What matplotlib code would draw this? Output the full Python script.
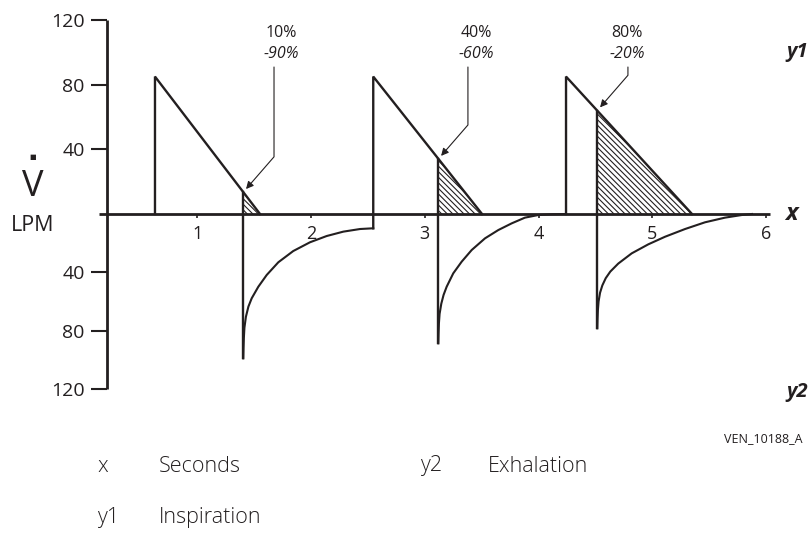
"""Flow waveforms at three cycle-off settings (10%, 40%, 80% of peak flow)."""

import matplotlib

matplotlib.use("Agg")
import matplotlib.pyplot as plt
import numpy as np

INK = "#231f20"
SANS: list[str] = ["Open Sans", "DejaVu Sans"]
NARROW: list[str] = ["Liberation Sans Narrow", "Open Sans", "DejaVu Sans"]

FIG_W, FIG_H = 812, 559
UPPER_SLOPE = 1.617  # px per LPM above the baseline (inspiration)
LOWER_SLOPE = 1.458  # px per LPM below the baseline (exhalation)

# axes
X_TICKS: list[int] = [1, 2, 3, 4, 5, 6]
Y_TICKS: list[int] = [120, 80, 40, -40, -80, -120]
Y_TICK_LABELS: list[str] = ["120", "80", "40", "40", "80", "120"]

# inspiration ramps (seconds / LPM)
INSP_START_T: list[float] = [0.629, 2.547, 4.241]
INSP_START_FLOW: list[float] = [0.0, -9.8, 0.0]
INSP_PEAK: list[float] = [85, 85, 85]
RAMP_END_T: list[float] = [1.552, 3.503, 5.348]

# cycle-off point on each ramp
CYCLE_T: list[float] = [1.405, 3.119, 4.516]
CYCLE_FLOW: list[float] = [13.5, 34, 64]
CYCLE_LABELS: list[str] = ["10%", "40%", "80%"]
CYCLE_SUBLABELS: list[str] = ["-90%", "-60%", "-20%"]

# exhalation curves
EXH1_T: list[float] = [1.405, 1.407, 1.410, 1.415, 1.428, 1.450, 1.479, 1.537, 1.611, 1.713, 1.844, 1.991, 2.138, 2.284, 2.431, 2.547]
EXH1_FLOW: list[float] = [-99.0, -92.0, -85.0, -78.0, -70.5, -63.5, -57.8, -49.9, -41.8, -33.1, -25.4, -19.4, -15.1, -12.1, -10.3, -9.8]
EXH2_T: list[float] = [3.119, 3.121, 3.124, 3.130, 3.145, 3.165, 3.192, 3.250, 3.324, 3.412, 3.529, 3.646, 3.764, 3.880, 3.997, 4.115, 4.241]
EXH2_FLOW: list[float] = [-88.7, -82.0, -75.0, -68.5, -61.5, -55.5, -49.9, -40.7, -32.7, -24.7, -16.7, -11.0, -6.4, -2.5, -0.7, -0.2, 0.0]
EXH3_T: list[float] = [4.516, 4.518, 4.521, 4.527, 4.540, 4.560, 4.590, 4.630, 4.700, 4.818, 4.964, 5.111, 5.287, 5.462, 5.638, 5.785, 5.875]
EXH3_FLOW: list[float] = [-78.4, -72.0, -66.0, -60.0, -54.0, -49.0, -44.0, -39.5, -34.0, -27.0, -20.8, -15.6, -10.3, -5.7, -2.5, -0.7, 0.0]

LEGEND_KEYS: list[str] = ["x", "y2", "y1"]
LEGEND_NAMES: list[str] = ["Seconds", "Exhalation", "Inspiration"]

# layout (pixels of the 812x559 canvas, converted where used)
X_LIM = (0.14, 6.03)
Y_AXIS_AT = 0.208
LEADER_T: list[float] = [1.675, 3.379, 4.785]
LABEL_T: list[float] = [1.736, 3.449, 4.777]
LABEL_FLOW, SUBLABEL_FLOW, LEADER_TOP = 111.9, 98.9, 90.9
LEGEND_POS: list[tuple[float, float, float]] = [(97, 159, 466), (420, 488, 466), (97, 159, 518)]


def forward(v):
    v = np.asarray(v, dtype=float)
    return np.where(v >= 0, v * UPPER_SLOPE, v * LOWER_SLOPE)


def inverse(t):
    t = np.asarray(t, dtype=float)
    return np.where(t >= 0, t / UPPER_SLOPE, t / LOWER_SLOPE)


def fig_xy(x_px: float, y_px: float) -> tuple[float, float]:
    return x_px / FIG_W, 1 - y_px / FIG_H


def setup_axes(fig):
    left, right = 83.4 + 113.8 * X_LIM[0], 83.4 + 113.8 * X_LIM[1]
    top, bottom = 214 - 120 * UPPER_SLOPE, 214 + 120 * LOWER_SLOPE
    ax = fig.add_axes([left / FIG_W, 1 - bottom / FIG_H, (right - left) / FIG_W, (bottom - top) / FIG_H])
    ax.set_yscale("function", functions=(forward, inverse))
    ax.set_xlim(*X_LIM)
    ax.set_ylim(-120, 120)
    ax.patch.set_visible(False)

    for side in ("top", "right"):
        ax.spines[side].set_visible(False)
    ax.spines["left"].set_position(("data", Y_AXIS_AT))
    ax.spines["bottom"].set_position(("data", 0))
    for side in ("left", "bottom"):
        ax.spines[side].set_linewidth(2.0)
        ax.spines[side].set_color(INK)
        ax.spines[side].set_capstyle("butt")

    ax.set_xticks(X_TICKS)
    ax.set_xticklabels([str(t) for t in X_TICKS], family=SANS)
    ax.set_yticks(Y_TICKS)
    ax.set_yticklabels(Y_TICK_LABELS, family=SANS)
    ax.minorticks_off()
    ax.tick_params(axis="y", direction="out", length=11.5, width=1.5, pad=4.5, labelsize=14, colors=INK)
    ax.tick_params(axis="x", direction="out", length=3, width=1.2, pad=5, labelsize=13, colors=INK)
    return ax


def draw_breaths(ax) -> None:
    exhalations = [(EXH1_T, EXH1_FLOW), (EXH2_T, EXH2_FLOW), (EXH3_T, EXH3_FLOW)]
    line = dict(color=INK, lw=1.7, solid_joinstyle="miter", clip_on=False)

    for i, (exh_t, exh_flow) in enumerate(exhalations):
        # inspiration: vertical rise then linear decay to zero
        ax.plot(
            [INSP_START_T[i], INSP_START_T[i], RAMP_END_T[i]],
            [INSP_START_FLOW[i], INSP_PEAK[i], 0],
            **line,
        )
        # cycle-off: vertical drop into exhalation
        ax.plot([CYCLE_T[i], CYCLE_T[i]], [CYCLE_FLOW[i], exh_flow[0]], **line)
        ax.plot(exh_t, exh_flow, color=INK, lw=1.5, clip_on=False)

        # the part of the ramp cut off by cycling
        ax.fill(
            [CYCLE_T[i], CYCLE_T[i], RAMP_END_T[i]],
            [0, CYCLE_FLOW[i], 0],
            facecolor="none",
            edgecolor=INK,
            hatch="\\\\\\\\\\\\",
            linewidth=0,
        )

        ax.annotate(
            "",
            xy=(CYCLE_T[i], CYCLE_FLOW[i]),
            xytext=(LEADER_T[i], LEADER_TOP),
            arrowprops=dict(
                arrowstyle="-|>",
                connectionstyle="angle,angleA=90,angleB=49,rad=0",
                color=INK,
                lw=0.8,
                shrinkA=0,
                shrinkB=3,
                mutation_scale=11,
            ),
            annotation_clip=False,
        )
        ax.text(LABEL_T[i], LABEL_FLOW, CYCLE_LABELS[i], family=SANS, fontsize=11.5, color=INK,
                ha="center", va="center")
        ax.text(LABEL_T[i], SUBLABEL_FLOW, CYCLE_SUBLABELS[i], family=SANS, fontsize=11.5, color=INK,
                style="italic", ha="center", va="center")


def draw_labels(fig) -> None:
    fig.text(*fig_xy(33, 187), "V", family=SANS, fontsize=26, color=INK, ha="center", va="center")
    fig.text(*fig_xy(33, 157), "■", family=["DejaVu Sans"], fontsize=5, color=INK, ha="center", va="center")
    fig.text(*fig_xy(33, 225), "LPM", family=SANS, fontsize=15.5, color=INK, ha="center", va="center")

    bold = dict(family=SANS, color=INK, weight="bold", style="italic", va="center")
    fig.text(*fig_xy(808, 52), "y1", fontsize=14.5, ha="right", **bold)
    fig.text(*fig_xy(798, 214), "x", fontsize=17, ha="right", **bold)
    fig.text(*fig_xy(808, 392), "y2", fontsize=14.5, ha="right", **bold)
    fig.text(*fig_xy(803, 439), "VEN_10188_A", family=NARROW, fontsize=9, color=INK, ha="right", va="center")

    for key, name, (x_key, x_name, y) in zip(LEGEND_KEYS, LEGEND_NAMES, LEGEND_POS):
        fig.text(*fig_xy(x_key, y), key, family=SANS, fontsize=15.5, color=INK, weight="light", va="center")
        fig.text(*fig_xy(x_name, y), name, family=SANS, fontsize=15.5, color=INK, weight="light", va="center")


def main() -> None:
    plt.rcParams["hatch.linewidth"] = 0.8
    plt.rcParams["hatch.color"] = INK
    fig = plt.figure(figsize=(FIG_W / 100, FIG_H / 100), dpi=100)
    ax = setup_axes(fig)
    draw_breaths(ax)
    draw_labels(fig)
    fig.savefig("out.png", dpi=100, facecolor="white")


if __name__ == "__main__":
    main()
